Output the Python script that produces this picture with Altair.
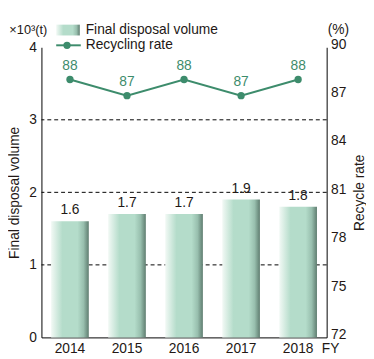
import altair as alt
import pandas as pd

years = ["2014", "2015", "2016", "2017", "2018"]
volume = [1.6, 1.7, 1.7, 1.9, 1.8]
rate = [88, 87, 88, 87, 88]
left_ticks = [0, 1, 2, 3, 4]
right_ticks = [72, 75, 78, 81, 84, 87, 90]
grid_vals = [1, 2, 3]

df = pd.DataFrame({"year": years, "volume": volume, "rate": rate})

FONT = "Liberation Sans"
TXT = "#231815"
GREEN = "#3d8c6c"

def grad():
    return alt.Gradient(
        gradient="linear",
        stops=[
            alt.GradientStop(color="#f2f9f5", offset=0),
            alt.GradientStop(color="#b4dcca", offset=0.3),
            alt.GradientStop(color="#b4dcca", offset=0.7),
            alt.GradientStop(color="#98bfae", offset=0.86),
            alt.GradientStop(color="#5f7d70", offset=1),
        ],
        x1=0, x2=1, y1=0, y2=0,
    )

xenc = alt.X(
    "year:N", title=None,
    scale=alt.Scale(paddingInner=0.34, paddingOuter=0.17),
    axis=alt.Axis(labelAngle=0, ticks=False, domainColor="black", labelPadding=4,
                  labelFontSize=14, labelColor=TXT, labelFont=FONT),
)

base = alt.Chart(df).encode(x=xenc)

left_axis = alt.Axis(values=left_ticks, title="Final disposal volume", grid=False,
                     ticks=False, domainColor="black", labelPadding=5,
                     labelFontSize=14, labelColor=TXT, labelFont=FONT,
                     titleFontSize=14, titleFontWeight="normal", titleColor=TXT,
                     titleFont=FONT, titlePadding=8)

rules = alt.Chart(pd.DataFrame({"g": grid_vals})).mark_rule(
    color="black", strokeDash=[4, 3], strokeWidth=1
).encode(y=alt.Y("g:Q", scale=alt.Scale(domain=[0, 4]), axis=left_axis, title="Final disposal volume"))

bars = base.mark_bar(color=grad()).encode(
    y=alt.Y("volume:Q", scale=alt.Scale(domain=[0, 4]), axis=left_axis, title="Final disposal volume")
)

bar_text = base.mark_text(dy=-4, baseline="bottom", fontSize=14, color=TXT, font=FONT).encode(
    y=alt.Y("volume:Q", scale=alt.Scale(domain=[0, 4]), axis=left_axis, title="Final disposal volume"),
    text=alt.Text("volume:Q", format=".1f"),
)

left = alt.layer(rules, bars, bar_text)

yr = alt.Y("rate:Q", scale=alt.Scale(domain=[72, 90]),
           axis=alt.Axis(orient="right", values=right_ticks, title="Recycle rate", grid=False,
                         ticks=False, domainColor="black", labelPadding=4, labelOffset=-3,
                         labelFontSize=14, labelColor=TXT, labelFont=FONT,
                         titleFontSize=14, titleFontWeight="normal", titleColor=TXT,
                         titleFont=FONT, titlePadding=7, titleAngle=270,
                         titleBaseline="top"))

line = base.mark_line(color=GREEN, strokeWidth=2).encode(y=yr)
pts = base.mark_point(filled=True, size=55, color=GREEN, opacity=1).encode(y=yr)
line_text = base.mark_text(dy=-7, baseline="bottom", fontSize=14, color=GREEN, font=FONT).encode(
    y=yr, text=alt.Text("rate:Q", format=".0f")
)

right = alt.layer(line, pts, line_text)

one = pd.DataFrame({"a": [0]})

def label(txt, x, y, align="left", size=14, color=TXT):
    return alt.Chart(one).mark_text(text=txt, align=align, baseline="middle", fontSize=size,
                                    color=color, font=FONT).encode(x=alt.value(x), y=alt.value(y))

leg_rect = alt.Chart(one).mark_rect(fill=grad()).encode(
    x=alt.value(15), x2=alt.value(39), y=alt.value(-23), y2=alt.value(-12))
leg_line = alt.Chart(one).mark_rule(color=GREEN, strokeWidth=2).encode(
    x=alt.value(15), x2=alt.value(40), y=alt.value(-2))
leg_pt = alt.Chart(one).mark_point(filled=True, size=55, color=GREEN, opacity=1).encode(
    x=alt.value(26), y=alt.value(-2))

annots = alt.layer(
    leg_rect, leg_line, leg_pt,
    label("Final disposal volume", 45, -18),
    label("Recycling rate", 45, -2),
    label("×10³(t)", 6, -18, align="right", size=13),
    label("(%)", 291, -18),
    label("FY", 285, 307),
)

chart = alt.layer(left, right, annots).resolve_scale(y="independent").properties(
    width=290, height=295,
    autosize=alt.AutoSizeParams(type="none"),
    padding={"left": 34, "top": 37, "right": 40, "bottom": 18},
).configure_view(stroke=None)

chart.save("out.html", embed_options={"renderer": "svg", "actions": False})
